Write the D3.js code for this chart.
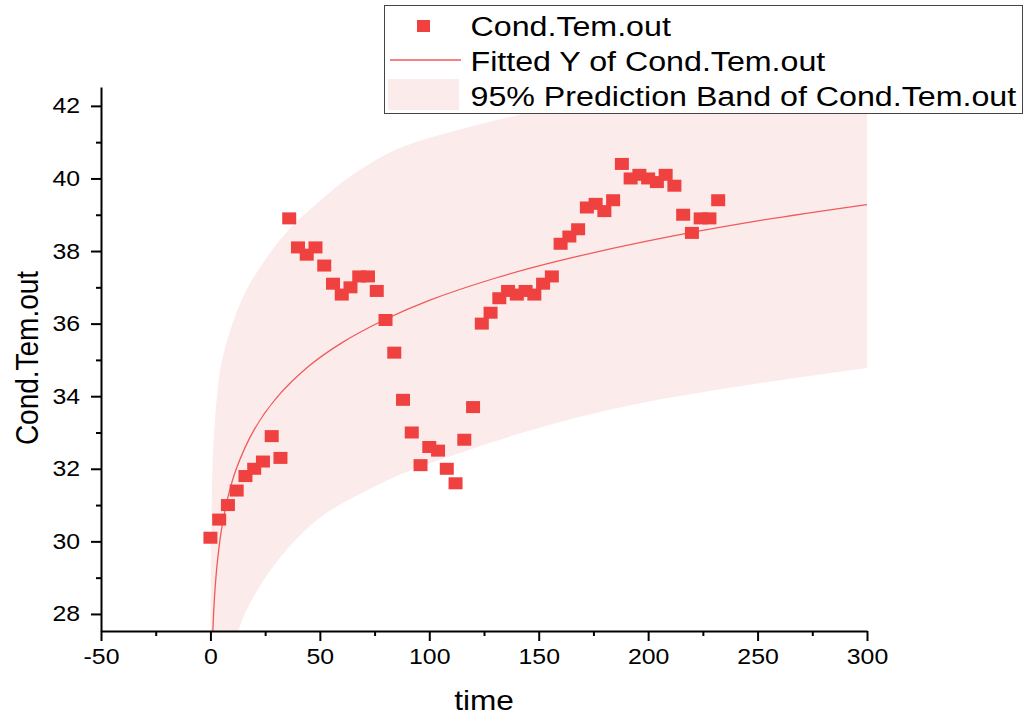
<!DOCTYPE html>
<html lang="en">
<head>
<meta charset="UTF-8">
<title>Cond.Tem.out fit</title>
<script src="https://d3js.org/d3.v7.min.js"></script>
<style>
  body { margin: 0; background: #fff; }
  svg text { font-family: "Liberation Sans", Arial, sans-serif; fill: #000; }
</style>
</head>
<body>
<svg width="1031" height="717"></svg>
<script>
// measured points
const time = [0, 4, 8, 12, 16, 20, 24, 28, 32, 36, 40, 44, 48, 52, 56, 60, 64, 68, 72, 76,
              80, 84, 88, 92, 96, 100, 104, 108, 112, 116, 120, 124, 128, 132, 136, 140, 144, 148, 152, 156,
              160, 164, 168, 172, 176, 180, 184, 188, 192, 196, 200, 204, 208, 212, 216, 220, 224, 228, 232];
const condTemOut = [30.1, 30.6, 31.0, 31.4, 31.8, 32.0, 32.2, 32.9, 32.3, 38.9, 38.1, 37.9, 38.1, 37.6, 37.1, 36.8, 37.0, 37.3, 37.3, 36.9,
                    36.1, 35.2, 33.9, 33.0, 32.1, 32.6, 32.5, 32.0, 31.6, 32.8, 33.7, 36.0, 36.3, 36.7, 36.9, 36.8, 36.9, 36.8, 37.1, 37.3,
                    38.2, 38.4, 38.6, 39.2, 39.3, 39.1, 39.4, 40.4, 40.0, 40.1, 40.0, 39.9, 40.1, 39.8, 39.0, 38.5, 38.9, 38.9, 39.4];

// fitted curve
const fitX = [1, 1.1, 1.5, 2, 3, 5, 8, 12, 20, 30, 45, 60, 80, 100, 130, 160, 200, 250, 300];
const fitY = [27.36, 27.53, 28.07, 28.59, 29.33, 30.30, 31.22, 32.03, 33.08, 33.94, 34.83, 35.47, 36.12, 36.64, 37.25, 37.74, 38.28, 38.83, 39.28];

// 95% prediction band
const bandX     = [0.05, 0.3, 0.6, 1.3, 3, 5, 9, 15, 24, 36, 50, 65, 87, 117, 140, 170, 200, 250, 300];
const bandLower = [18, 21, 22.5, 23.8, 24.9, 25.7, 26.7, 27.9, 28.9, 29.85, 30.65, 31.2, 31.85, 32.5, 32.95, 33.45, 33.85, 34.35, 34.78];
const bandUpper = [27.0, 29.6, 31.15, 32.6, 34.0, 34.9, 35.8, 36.75, 37.67, 38.6, 39.38, 40.1, 40.85, 41.4, 41.74, 42.15, 42.55, 43.1, 43.6];

const xTicks = [-50, 0, 50, 100, 150, 200, 250, 300];
const xMinor = [-25, 25, 75, 125, 175, 225, 275];
const yTicks = [28, 30, 32, 34, 36, 38, 40, 42];
const yMinor = [29, 31, 33, 35, 37, 39, 41];
const legendLabels = ["Cond.Tem.out", "Fitted Y of Cond.Tem.out", "95% Prediction Band of Cond.Tem.out"];

const pointColor = "#f04141", lineColor = "#f05a5a", bandColor = "#fcebeb";
const stretch = "scale(1.13,1)";

const svg = d3.select("svg");
const x = d3.scaleLinear().domain([-50, 300]).range([101, 867]);
const y = d3.scaleLinear().domain([27.53, 42.52]).range([631, 87]);

svg.append("clipPath").attr("id", "plot")
  .append("rect").attr("x", 101).attr("y", 87).attr("width", 766).attr("height", 544);

const plot = svg.append("g").attr("clip-path", "url(#plot)");

// band
const band = d3.area()
  .x((d, i) => x(bandX[i]))
  .y0((d, i) => y(bandLower[i]))
  .y1((d, i) => y(bandUpper[i]))
  .curve(d3.curveCatmullRom.alpha(0.5));
plot.append("path").attr("d", band(bandX)).attr("fill", bandColor);

// fitted line
const fit = d3.line()
  .x((d, i) => x(fitX[i]))
  .y((d, i) => y(fitY[i]))
  .curve(d3.curveCatmullRom.alpha(0.5));
plot.append("path").attr("d", fit(fitX))
  .attr("fill", "none").attr("stroke", lineColor).attr("stroke-width", 1.3);

// points
plot.append("g").selectAll("rect")
  .data(time)
  .join("rect")
  .attr("x", d => x(d) - 7)
  .attr("y", (d, i) => y(condTemOut[i]) - 6)
  .attr("width", 14).attr("height", 12)
  .attr("fill", pointColor);

// axes
const xAxis = svg.append("g").attr("transform", "translate(0,631)")
  .call(d3.axisBottom(x).tickValues(xTicks).tickSize(10).tickSizeOuter(0).tickPadding(7).tickFormat(d => String(d)));
svg.append("g").attr("transform", "translate(0,631)")
  .call(d3.axisBottom(x).tickValues(xMinor).tickSize(5).tickFormat(""))
  .call(g => g.select(".domain").remove());

const yAxis = svg.append("g").attr("transform", "translate(101,0)")
  .call(d3.axisLeft(y).tickValues(yTicks).tickSize(10).tickSizeOuter(0).tickFormat(d => String(d)));
svg.append("g").attr("transform", "translate(101,0)")
  .call(d3.axisLeft(y).tickValues(yMinor).tickSize(5).tickFormat(""))
  .call(g => g.select(".domain").remove());

svg.selectAll(".domain").attr("stroke-width", 2);
svg.selectAll(".tick line").attr("stroke-width", 2);
xAxis.selectAll("text").attr("font-size", 22).attr("transform", stretch);
yAxis.selectAll("text").attr("font-size", 22).attr("x", -18.5).attr("transform", stretch);

// axis titles
svg.append("text").attr("transform", "translate(484,710) " + stretch)
  .attr("text-anchor", "middle").attr("font-size", 28).text("time");
svg.append("text").attr("transform", "translate(38,358) scale(1.13,1) rotate(-90)")
  .attr("text-anchor", "middle").attr("font-size", 28).text("Cond.Tem.out");

// legend
const legend = svg.append("g");
legend.append("rect").attr("x", 384.5).attr("y", 5.5).attr("width", 638).attr("height", 108)
  .attr("fill", "#fff").attr("stroke", "#444").attr("stroke-width", 1);
legend.append("rect").attr("x", 417).attr("y", 20).attr("width", 13).attr("height", 12).attr("fill", pointColor);
legend.append("line").attr("x1", 390).attr("x2", 461).attr("y1", 60).attr("y2", 60)
  .attr("stroke", lineColor).attr("stroke-width", 1.3);
legend.append("rect").attr("x", 388).attr("y", 79).attr("width", 71).attr("height", 31).attr("fill", bandColor);
legend.selectAll("text.lab")
  .data(legendLabels)
  .join("text")
  .attr("class", "lab")
  .attr("transform", (d, i) => `translate(470.5,${35.5 + i * 35}) scale(1.15,1)`)
  .attr("font-size", 28)
  .text(d => d);
</script>
</body>
</html>
